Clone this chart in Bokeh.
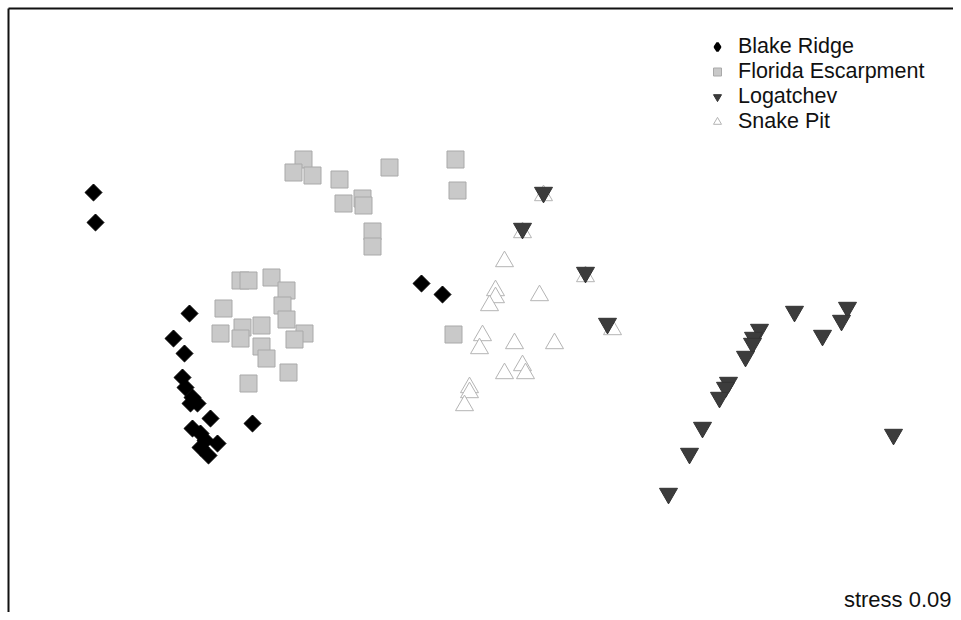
import math
from bokeh.plotting import figure
from bokeh.models import Range1d, FixedTicker, Legend, LegendItem, Label
from bokeh.embed import file_html
from bokeh.resources import INLINE

# NMDS ordination coordinates (arbitrary units)
blake_x = [93, 95, 189, 173, 184, 182, 185, 192, 197, 190, 210, 252, 192, 200, 217, 200, 208, 205, 421, 442]
blake_y = [428, 398, 307, 282, 267, 243, 233, 223, 217, 217, 202, 197, 192, 187, 177, 173, 165, 180, 337, 326]

florida_x = [303, 293, 312, 339, 389, 455, 457, 343, 362, 363, 372, 372, 240, 248, 271, 286, 282, 286,
             223, 220, 242, 240, 261, 304, 294, 261, 266, 288, 248, 453]
florida_y = [461, 448, 445, 441, 453, 461, 430, 417, 422, 415, 389, 374, 340, 340, 343, 330, 315, 301,
             312, 287, 293, 282, 295, 287, 281, 274, 262, 248, 237, 286]

logatchev_x = [543, 522, 585, 607, 794, 847, 841, 822, 759, 753, 752, 745, 728, 725, 719, 702, 689, 668, 893]
logatchev_y = [428, 392, 348, 297, 309, 313, 300, 285, 291, 283, 277, 264, 238, 233, 223, 193, 167, 127, 186]

snake_x = [543, 522, 585, 612, 504, 495, 495, 489, 539, 482, 479, 514, 554, 504, 522, 525, 469, 469, 464]
snake_y = [425, 388, 344, 291, 359, 330, 323, 315, 325, 285, 272, 277, 277, 247, 255, 247, 233, 228, 215]

labels = ["Blake Ridge", "Florida Escarpment", "Logatchev", "Snake Pit"]
stress_text = "stress 0.09"

p = figure(width=953, height=612, output_backend="svg", toolbar_location=None,
           x_axis_location="above", y_axis_location="left",
           x_range=Range1d(8, 953), y_range=Range1d(8, 612),
           min_border_left=8, min_border_top=8,
           min_border_right=0, min_border_bottom=0)
p.outline_line_color = None
p.grid.visible = False
p.background_fill_color = "white"
p.border_fill_color = "white"
for ax in (p.xaxis, p.yaxis):
    ax.ticker = FixedTicker(ticks=[])
    ax.major_label_text_font_size = "0px"
    ax.major_tick_line_color = None
    ax.minor_tick_line_color = None
    ax.major_tick_out = 0
    ax.major_tick_in = 0
    ax.major_label_standoff = 0
    ax.axis_line_color = "#111111"
    ax.axis_line_width = 2

r_snake = p.scatter(snake_x, snake_y, marker="triangle", size=18,
                    fill_color="white", line_color="#b4b4b4", line_width=1)
r_flor = p.scatter(florida_x, florida_y, marker="square", size=17,
                   fill_color="#c9c9c9", line_color="#a9a9a9", line_width=1)
r_blake = p.scatter(blake_x, blake_y, marker="square", size=12, angle=math.pi / 4,
                    fill_color="black", line_color="black", line_width=1)
r_log = p.scatter(logatchev_x, logatchev_y, marker="inverted_triangle", size=18,
                  fill_color="#3c3c3c", line_color="#333333", line_width=1)
# hidden renderer that only supplies the diamond key in the legend
r_blake_key = p.scatter(blake_x, blake_y, marker="diamond", size=12,
                        fill_color="black", line_color="black", line_width=2.5)
r_blake_key.visible = False

legend = Legend(items=[
    LegendItem(label=labels[0], renderers=[r_blake_key]),
    LegendItem(label=labels[1], renderers=[r_flor]),
    LegendItem(label=labels[2], renderers=[r_log]),
    LegendItem(label=labels[3], renderers=[r_snake]),
], location=(699, 478))
legend.label_text_font = "Liberation Sans"
legend.label_text_font_size = "21.5px"
legend.label_text_color = "#111111"
legend.label_height = 25
legend.glyph_height = 25
legend.glyph_width = 20
legend.label_standoff = 11
legend.spacing = 0
legend.padding = 0
legend.margin = 0
legend.border_line_color = None
legend.background_fill_alpha = 0
p.add_layout(legend, "center")

stress = Label(x=951, y=21, text=stress_text, text_align="right", text_baseline="middle",
               text_font="Liberation Sans", text_font_size="22px", text_color="#111111")
p.add_layout(stress)

open("out.html", "w").write(file_html(p, INLINE))
